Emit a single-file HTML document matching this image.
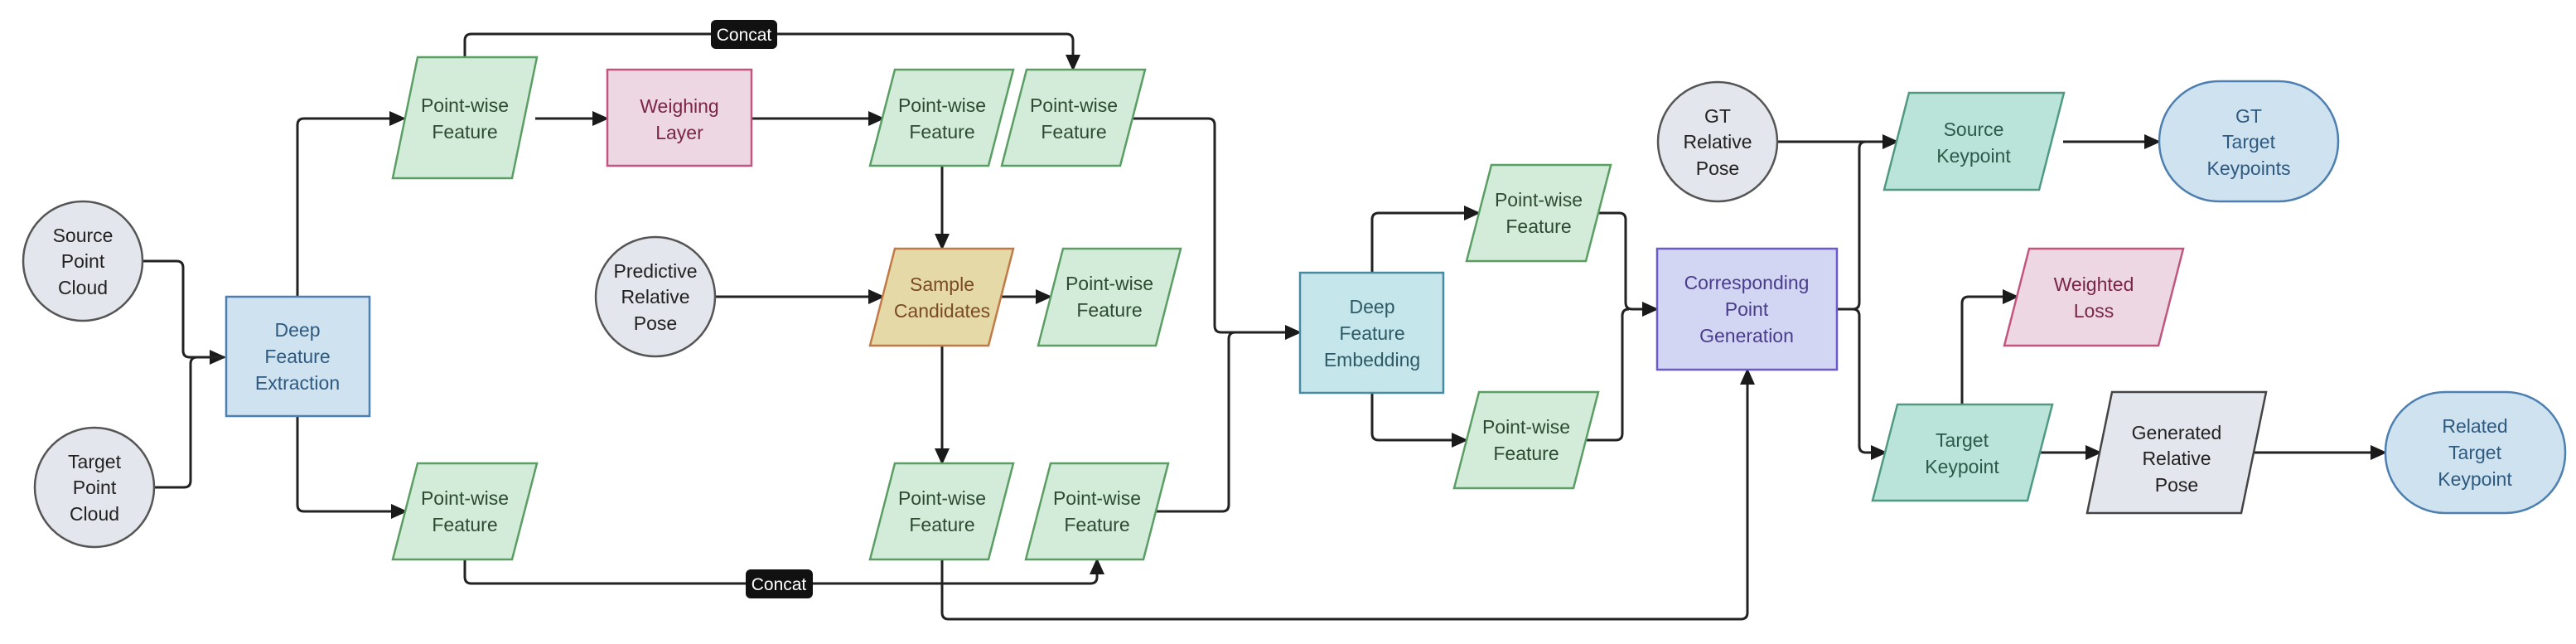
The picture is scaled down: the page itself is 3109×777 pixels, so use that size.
<!DOCTYPE html>
<html><head><meta charset="utf-8"><style>
html,body{margin:0;padding:0;background:#fff;}
svg text{font-family:"Liberation Sans","DejaVu Sans",sans-serif;font-size:23px;text-anchor:middle;}
</style></head><body>
<svg width="3109" height="772" viewBox="0 0 3109 772" xmlns="http://www.w3.org/2000/svg">
<defs><marker id="a" viewBox="0 0 20 20" refX="18" refY="10" markerWidth="20" markerHeight="20" orient="auto" markerUnits="userSpaceOnUse"><path d="M0,1 L20,10 L0,19 z" fill="#1a1a1a"/></marker></defs>
<g fill="none" stroke="#222" stroke-width="3" stroke-linejoin="round">
<path d="M172,315 H213 Q221,315 221,323 V423 Q221,431 229,431 H271" marker-end="url(#a)"/>
<path d="M186,588 H222 Q230,588 230,580 V439 Q230,431 238,431 H271"/>
<path d="M359,358 V151 Q359,143 367,143 H488" marker-end="url(#a)"/>
<path d="M359,502 V609 Q359,617 367,617 H490" marker-end="url(#a)"/>
<path d="M646,143 H733" marker-end="url(#a)"/>
<path d="M907,143 H1066" marker-end="url(#a)"/>
<path d="M561,69 V49 Q561,41 569,41 H1287 Q1295,41 1295,49 V84" marker-end="url(#a)"/>
<path d="M561,675 V696 Q561,704 569,704 H1316 Q1324,704 1324,696 V675" marker-end="url(#a)"/>
<path d="M1137,200 V300" marker-end="url(#a)"/>
<path d="M863,358 H1066" marker-end="url(#a)"/>
<path d="M1209,358 H1268" marker-end="url(#a)"/>
<path d="M1137,417 V559" marker-end="url(#a)"/>
<path d="M1366,143 H1458 Q1466,143 1466,151 V393 Q1466,401 1474,401 H1569" marker-end="url(#a)"/>
<path d="M1396,617 H1475 Q1483,617 1483,609 V409 Q1483,401 1491,401"/>
<path d="M1656,329 V265 Q1656,257 1664,257 H1785" marker-end="url(#a)"/>
<path d="M1656,474 V523 Q1656,531 1664,531 H1770" marker-end="url(#a)"/>
<path d="M1930,257 H1954 Q1962,257 1962,265 V365 Q1962,373 1970,373 H2000" marker-end="url(#a)"/>
<path d="M1915,531 H1950 Q1958,531 1958,523 V381 Q1958,373 1966,373"/>
<path d="M1137,675 V739 Q1137,747 1145,747 H2101 Q2109,747 2109,739 V446" marker-end="url(#a)"/>
<path d="M2145,171 H2290" marker-end="url(#a)"/>
<path d="M2217,373 H2236 Q2244,373 2244,365 V179 Q2244,171 2252,171"/>
<path d="M2217,373 H2236 Q2244,373 2244,381 V538 Q2244,546 2252,546 H2276" marker-end="url(#a)"/>
<path d="M2490,171 H2606" marker-end="url(#a)"/>
<path d="M2368,488 V366 Q2368,358 2376,358 H2435" marker-end="url(#a)"/>
<path d="M2462,546 H2535" marker-end="url(#a)"/>
<path d="M2720,546 H2879" marker-end="url(#a)"/>
</g>
<rect x="858" y="24" width="80" height="35" rx="6" fill="#111"/><text x="898" y="49" fill="#fff" style="font-size:21px">Concat</text>
<rect x="900" y="687" width="81" height="35" rx="6" fill="#111"/><text x="940" y="712" fill="#fff" style="font-size:21px">Concat</text>
<g stroke-width="2.5">
<circle cx="100" cy="315" r="72" fill="#e3e6ec" stroke="#555"/>
<circle cx="114" cy="588" r="72" fill="#e3e6ec" stroke="#555"/>
<circle cx="791" cy="358" r="72" fill="#e3e6ec" stroke="#555"/>
<circle cx="2073" cy="171" r="72" fill="#e3e6ec" stroke="#555"/>
<rect x="273" y="358" width="173" height="144" fill="#cfe2f0" stroke="#4d7fb0"/>
<rect x="733" y="84" width="174" height="116" fill="#ecd7e3" stroke="#c2557e"/>
<rect x="1569" y="329" width="173" height="145" fill="#c5e6ea" stroke="#4a8aa0"/>
<rect x="2000" y="300" width="217" height="146" fill="#d3d6f2" stroke="#6a5acd"/>
<rect x="2606" y="98" width="216" height="145" rx="72" fill="#cfe2f0" stroke="#4d7fb0"/>
<rect x="2879" y="473" width="217" height="146" rx="72" fill="#cfe2f0" stroke="#4d7fb0"/>
<g fill="#d3ecd9" stroke="#5a9e64">
<polygon points="504,69 648,69 618,215 474,215"/>
<polygon points="504,559 648,559 618,675 474,675"/>
<polygon points="1080,84 1223,84 1193,200 1050,200"/>
<polygon points="1239,84 1382,84 1352,200 1209,200"/>
<polygon points="1283,300 1425,300 1395,417 1253,417"/>
<polygon points="1080,559 1223,559 1193,675 1050,675"/>
<polygon points="1268,559 1410,559 1380,675 1238,675"/>
<polygon points="1800,199 1944,199 1914,315 1770,315"/>
<polygon points="1785,473 1929,473 1899,589 1755,589"/>
</g>
<polygon points="1080,300 1223,300 1193,417 1050,417" fill="#e6d9a8" stroke="#c07a45"/>
<polygon points="2304,112 2491,112 2461,229 2274,229" fill="#bae4da" stroke="#4f9a80"/>
<polygon points="2290,488 2477,488 2447,604 2260,604" fill="#bae4da" stroke="#4f9a80"/>
<polygon points="2449,300 2635,300 2605,417 2419,417" fill="#ecd7e3" stroke="#c2557e"/>
<polygon points="2549,473 2735,473 2705,619 2519,619" fill="#e3e6ec" stroke="#444"/>
</g>
<g fill="#222">
<text x="100" y="292">Source</text><text x="100" y="323">Point</text><text x="100" y="355">Cloud</text>
<text x="114" y="565">Target</text><text x="114" y="596">Point</text><text x="114" y="628">Cloud</text>
<text x="791" y="335">Predictive</text><text x="791" y="366">Relative</text><text x="791" y="398">Pose</text>
<text x="2073" y="148">GT</text><text x="2073" y="179">Relative</text><text x="2073" y="211">Pose</text>
<text x="2627" y="530">Generated</text><text x="2627" y="561">Relative</text><text x="2627" y="593">Pose</text>
</g>
<g fill="#2f5a80">
<text x="359" y="406">Deep</text><text x="359" y="438">Feature</text><text x="359" y="470">Extraction</text>
<text x="2714" y="148">GT</text><text x="2714" y="179">Target</text><text x="2714" y="211">Keypoints</text>
<text x="2987" y="522">Related</text><text x="2987" y="554">Target</text><text x="2987" y="586">Keypoint</text>
</g>
<g fill="#2e5a66"><text x="1656" y="378">Deep</text><text x="1656" y="410">Feature</text><text x="1656" y="442">Embedding</text></g>
<g fill="#4a3c8c"><text x="2108" y="349">Corresponding</text><text x="2108" y="381">Point</text><text x="2108" y="413">Generation</text></g>
<g fill="#7a2448"><text x="820" y="136">Weighing</text><text x="820" y="168">Layer</text>
<text x="2527" y="351">Weighted</text><text x="2527" y="383">Loss</text></g>
<g fill="#7a4a22"><text x="1137" y="351">Sample</text><text x="1137" y="383">Candidates</text></g>
<g fill="#2c5a48"><text x="2382" y="164">Source</text><text x="2382" y="196">Keypoint</text>
<text x="2368" y="539">Target</text><text x="2368" y="571">Keypoint</text></g>
<g fill="#2d4a33">
<text x="561" y="135">Point-wise</text><text x="561" y="167">Feature</text>
<text x="561" y="609">Point-wise</text><text x="561" y="641">Feature</text>
<text x="1137" y="135">Point-wise</text><text x="1137" y="167">Feature</text>
<text x="1296" y="135">Point-wise</text><text x="1296" y="167">Feature</text>
<text x="1339" y="350">Point-wise</text><text x="1339" y="382">Feature</text>
<text x="1137" y="609">Point-wise</text><text x="1137" y="641">Feature</text>
<text x="1324" y="609">Point-wise</text><text x="1324" y="641">Feature</text>
<text x="1857" y="249">Point-wise</text><text x="1857" y="281">Feature</text>
<text x="1842" y="523">Point-wise</text><text x="1842" y="555">Feature</text>
</g>
</svg>
</body></html>
